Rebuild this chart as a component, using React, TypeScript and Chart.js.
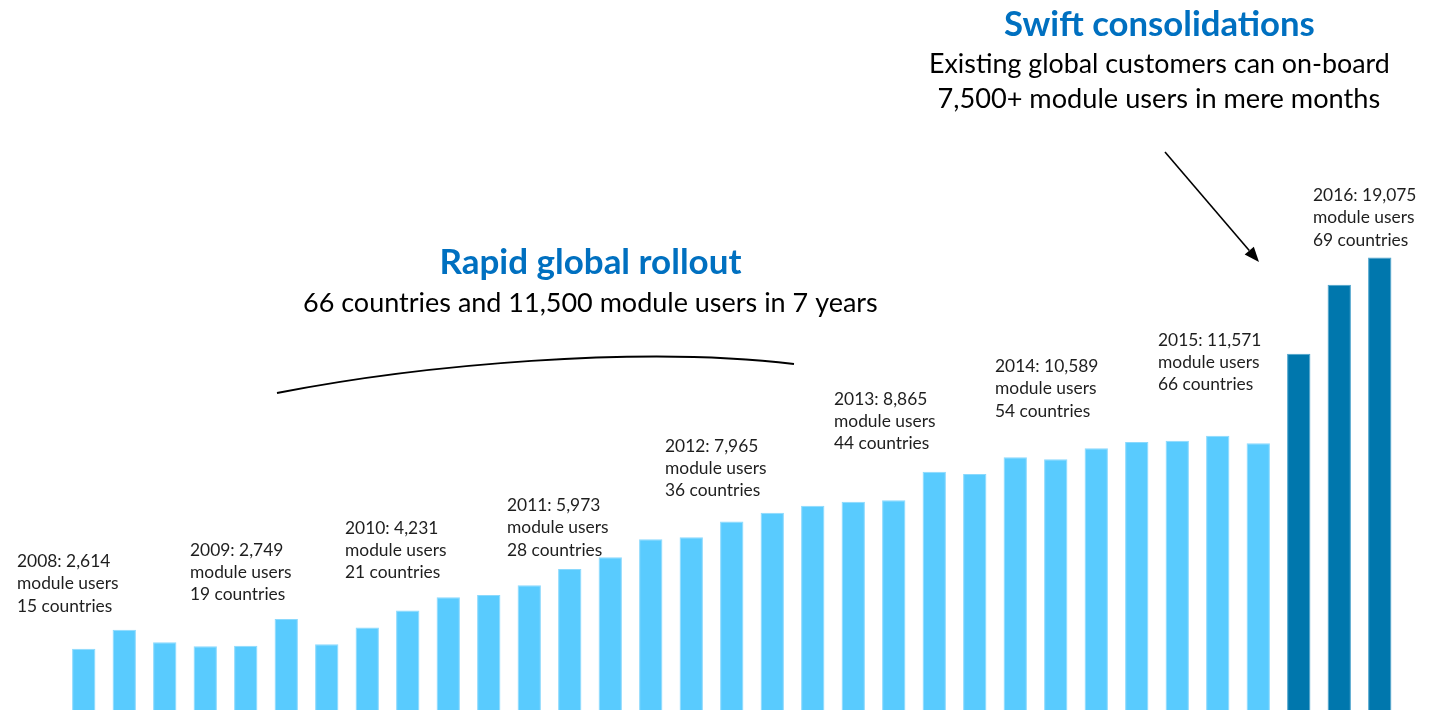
import React, { useEffect, useRef } from "react";
import { Chart, registerables } from "chart.js";

Chart.register(...registerables);

// ---------- data ----------
const quarters = [
  "2008 Q4",
  "2009 Q1", "2009 Q2", "2009 Q3", "2009 Q4",
  "2010 Q1", "2010 Q2", "2010 Q3", "2010 Q4",
  "2011 Q1", "2011 Q2", "2011 Q3", "2011 Q4",
  "2012 Q1", "2012 Q2", "2012 Q3", "2012 Q4",
  "2013 Q1", "2013 Q2", "2013 Q3", "2013 Q4",
  "2014 Q1", "2014 Q2", "2014 Q3", "2014 Q4",
  "2015 Q1", "2015 Q2", "2015 Q3", "2015 Q4",
  "2016 Q1", "2016 Q2", "2016 Q3", "2016 Q4",
];

const moduleUsers = [
  2614,
  3412, 2895, 2727, 2749,
  3874, 2811, 3509, 4231,
  4786, 4883, 5290, 5973,
  6467, 7223, 7307, 7965,
  8341, 8635, 8803, 8865,
  10064, 9967, 10669, 10589,
  11047, 11312, 11367, 11571,
  11257, 15022, 17922, 19075,
];

// first quarter drawn as a "consolidation" bar (dark)
const consolidationFrom = "2016 Q2";

const yearNames = ["2008", "2009", "2010", "2011", "2012", "2013", "2014", "2015", "2016"];
const yearUsers = ["2,614", "2,749", "4,231", "5,973", "7,965", "8,865", "10,589", "11,571", "19,075"];
const yearCountries = [15, 19, 21, 28, 36, 44, 54, 66, 69];

const rolloutTitle = "Rapid global rollout";
const rolloutText = "66 countries and 11,500 module users in 7 years";
const swiftTitle = "Swift consolidations";
const swiftLines = ["Existing global customers can on-board", "7,500+ module users in mere months"];

// ---------- layout / style (not data) ----------
const FONT = "Lato, 'Open Sans', sans-serif";
const BLUE_TEXT = "#0070C0";
const LIGHT = "#59CBFE";
const LIGHT_EDGE = "#8AD9FD";
const DARK = "#0077AD";
const DARK_EDGE = "#4AA2CC";

// x (left) and first-line baseline of each year label
const yearLabelPos = [
  [17, 567], [190, 555.5], [345, 533.5], [507, 511], [665, 451.5],
  [834, 404.5], [995, 372], [1158, 345.5], [1313, 201],
];
const LINE_GAP = 22.4;

function fitSize(ctx: CanvasRenderingContext2D, text: string, width: number, weight: string) {
  ctx.font = `${weight} 100px ${FONT}`;
  const w = ctx.measureText(text).width;
  return (100 * width) / w;
}

const annotations = {
  id: "annotations",
  afterDraw(chart: any) {
    const ctx: CanvasRenderingContext2D = chart.ctx;
    ctx.save();
    ctx.textBaseline = "alphabetic";
    ctx.textAlign = "left";

    // year labels
    const labelSize = fitSize(ctx, "module users", 101.5, "400");
    ctx.font = `400 ${labelSize}px ${FONT}`;
    ctx.fillStyle = "#1e1e1e";
    yearNames.forEach((yr, i) => {
      const [x, y] = yearLabelPos[i];
      ctx.fillText(`${yr}: ${yearUsers[i]}`, x, y);
      ctx.fillText("module users", x, y + LINE_GAP);
      ctx.fillText(`${yearCountries[i]} countries`, x, y + 2 * LINE_GAP);
    });

    // headings
    const drawFit = (text: string, x: number, y: number, w: number, weight: string, color: string) => {
      const s = fitSize(ctx, text, w, weight);
      ctx.font = `${weight} ${s}px ${FONT}`;
      ctx.fillStyle = color;
      ctx.fillText(text, x, y);
    };
    drawFit(rolloutTitle, 439.5, 273.5, 302, "700", BLUE_TEXT);
    drawFit(rolloutText, 303, 311.5, 575, "400", "#000");
    drawFit(swiftTitle, 1004, 35.5, 311, "700", BLUE_TEXT);
    drawFit(swiftLines[0], 929, 72.5, 461, "400", "#000");
    drawFit(swiftLines[1], 937.5, 108, 443, "400", "#000");

    // rollout curve
    ctx.strokeStyle = "#000";
    ctx.lineWidth = 2;
    ctx.beginPath();
    ctx.moveTo(277, 393);
    ctx.bezierCurveTo(420, 365, 640, 345, 794, 364);
    ctx.stroke();

    // consolidation arrow
    const x0 = 1165, y0 = 152, x1 = 1259, y1 = 262;
    const ang = Math.atan2(y1 - y0, x1 - x0);
    const head = 15, half = 6;
    const bx = x1 - head * Math.cos(ang), by = y1 - head * Math.sin(ang);
    ctx.lineWidth = 1.6;
    ctx.beginPath();
    ctx.moveTo(x0, y0);
    ctx.lineTo(bx, by);
    ctx.stroke();
    ctx.fillStyle = "#000";
    ctx.beginPath();
    ctx.moveTo(x1, y1);
    ctx.lineTo(bx + half * Math.sin(ang), by - half * Math.cos(ang));
    ctx.lineTo(bx - half * Math.sin(ang), by + half * Math.cos(ang));
    ctx.closePath();
    ctx.fill();

    ctx.restore();
  },
};

export default function App() {
  const ref = useRef<HTMLCanvasElement | null>(null);

  useEffect(() => {
    if (!ref.current) return;
    const darkIdx = quarters.indexOf(consolidationFrom);
    const chart = new Chart(ref.current, {
      type: "bar",
      data: {
        labels: quarters,
        datasets: [
          {
            data: moduleUsers,
            backgroundColor: quarters.map((_, i) => (i >= darkIdx ? DARK : LIGHT)),
            borderColor: quarters.map((_, i) => (i >= darkIdx ? DARK_EDGE : LIGHT_EDGE)),
            borderWidth: 1,
            borderSkipped: "start",
            categoryPercentage: 1,
            barPercentage: 0.576,
          },
        ],
      },
      options: {
        animation: false,
        responsive: true,
        maintainAspectRatio: false,
        layout: { padding: { left: 63.5, right: 37, top: 0, bottom: 0 } },
        plugins: { legend: { display: false }, tooltip: { enabled: false }, title: { display: false } },
        scales: {
          x: { display: false, grid: { display: false } },
          y: { display: false, min: 0, max: 29900, grid: { display: false } },
        },
      },
      plugins: [annotations],
    });
    return () => chart.destroy();
  }, []);

  return (
    <div style={{ position: "fixed", left: 0, top: 0, width: 1437, height: 710, overflow: "hidden", background: "#fff" }}>
      <div style={{ position: "relative", width: 1437, height: 711 }}>
        <canvas ref={ref} />
      </div>
    </div>
  );
}
